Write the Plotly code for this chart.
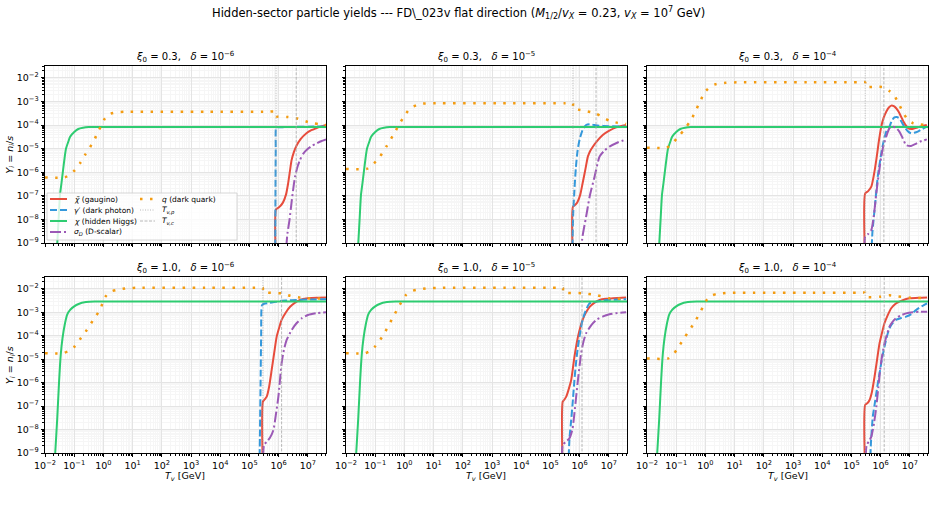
import numpy as np
import plotly.graph_objects as go

# ---------------- panel parameters ----------------
XI0 = ["0.3", "0.3", "0.3", "1.0", "1.0", "1.0"]
DELTA_EXP = ["−6", "−5", "−4", "−6", "−5", "−4"]

# characteristic temperatures, log10(T / GeV)
LOG_TVP = [5.91, 5.77, 5.47, 5.46, 5.43, 5.47]
LOG_TVC = [6.60, 6.56, 6.11, 6.10, 6.08, 6.12]

# ---------------- hidden Higgs (same in each row) ----------------
GREEN_TOP_LOGT = [-1.64, -1.58, -1.53, -1.49, -1.44, -1.39, -1.33, -1.28, -1.20, -1.14, -1.00, -0.86, -0.70, -0.50, -0.30, 0.0, 7.62]
GREEN_TOP_LOGY = [-10.0, -9.0, -7.9, -7.0, -6.5, -6.0, -5.4, -5.0, -4.7, -4.5, -4.3, -4.17, -4.12, -4.09, -4.08, -4.08, -4.08]
GREEN_BOT_LOGT = [-1.70, -1.65, -1.58, -1.52, -1.46, -1.40, -1.32, -1.24, -1.14, -1.00, -0.85, -0.60, -0.30, 0.0, 7.62]
GREEN_BOT_LOGY = [-10.0, -9.0, -7.5, -6.0, -4.8, -4.1, -3.5, -3.1, -2.9, -2.75, -2.65, -2.57, -2.54, -2.54, -2.54]

# ---------------- panel A: xi0=0.3, delta=1e-6 ----------------
A_RED_LOGT = [5.91, 5.91, 6.00, 6.14, 6.25, 6.32, 6.38, 6.44, 6.52, 6.61, 6.75, 6.95, 7.12, 7.30, 7.45, 7.62]
A_RED_LOGY = [-10.0, -7.57, -7.5, -7.3, -6.95, -6.5, -6.0, -5.5, -5.15, -4.88, -4.6, -4.35, -4.22, -4.13, -4.06, -4.0]
A_BLUE_LOGT = [5.88, 5.89, 5.90, 5.91, 5.95, 6.20, 6.60, 7.00, 7.62]
A_BLUE_LOGY = [-10.0, -7.0, -5.0, -4.13, -4.1, -4.09, -4.08, -4.07, -4.06]
A_PURP_LOGT = [6.20, 6.25, 6.30, 6.37, 6.45, 6.56, 6.65, 6.73, 6.85, 7.02, 7.15, 7.30, 7.45, 7.62]
A_PURP_LOGY = [-10.0, -9.3, -8.6, -8.03, -7.18, -6.19, -5.75, -5.48, -5.2, -4.99, -4.87, -4.78, -4.69, -4.61]
A_ORNG_LOGT = [-2.0, -1.32, -1.15, -0.975, -0.80, -0.63, -0.46, -0.29, -0.155, -0.04, 0.05, 0.22, 0.45, 0.73, 1.2, 3.5, 5.6, 5.91, 5.91, 6.30, 6.60, 6.80, 7.00, 7.20, 7.40, 7.62]
A_ORNG_LOGY = [-6.22, -6.22, -6.1, -5.91, -5.62, -5.27, -4.95, -4.57, -4.21, -3.96, -3.72, -3.53, -3.46, -3.44, -3.44, -3.44, -3.44, -3.44, -3.63, -3.66, -3.71, -3.79, -3.87, -3.93, -3.97, -4.0]

# ---------------- panel B: xi0=0.3, delta=1e-5 ----------------
B_RED_LOGT = [5.77, 5.77, 5.85, 5.93, 6.02, 6.10, 6.20, 6.28, 6.36, 6.45, 6.60, 6.79, 7.00, 7.25, 7.59]
B_RED_LOGY = [-10.0, -7.46, -7.38, -7.25, -6.95, -6.47, -5.85, -5.34, -5.1, -4.92, -4.67, -4.42, -4.25, -4.1, -4.0]
B_BLUE_LOGT = [5.74, 5.78, 5.82, 5.87, 5.93, 6.00, 6.10, 6.22, 6.35, 6.60, 7.00, 7.59]
B_BLUE_LOGY = [-10.0, -7.7, -6.75, -5.8, -5.06, -4.6, -4.21, -4.0, -3.97, -4.02, -4.05, -4.07]
B_PURP_LOGT = [6.03, 6.10, 6.22, 6.34, 6.51, 6.68, 6.85, 7.02, 7.30, 7.59]
B_PURP_LOGY = [-9.5, -8.7, -7.89, -7.04, -6.19, -5.34, -5.08, -4.92, -4.74, -4.61]
B_ORNG_LOGT = [-2.0, -1.29, -1.10, -0.84, -0.60, -0.38, -0.20, -0.02, 0.19, 0.53, 1.0, 3.5, 5.5, 5.77, 5.77, 6.10, 6.53, 6.80, 7.02, 7.30, 7.59]
B_ORNG_LOGY = [-5.86, -5.86, -5.7, -5.34, -4.88, -4.42, -4.02, -3.65, -3.3, -3.11, -3.08, -3.08, -3.08, -3.08, -3.29, -3.38, -3.5, -3.68, -3.82, -3.91, -3.96]

# ---------------- panel C: xi0=0.3, delta=1e-4 ----------------
C_RED_LOGT = [5.47, 5.47, 5.57, 5.68, 5.77, 5.85, 5.93, 6.02, 6.10, 6.19, 6.28, 6.36, 6.45, 6.53, 6.62, 6.70, 6.80, 6.93, 7.05, 7.16, 7.35, 7.58]
C_RED_LOGY = [-10.0, -6.9, -6.8, -6.61, -6.1, -5.48, -4.75, -4.07, -3.7, -3.44, -3.26, -3.18, -3.2, -3.29, -3.45, -3.65, -3.9, -4.12, -4.17, -4.14, -4.07, -4.0]
C_BLUE_LOGT = [5.66, 5.72, 5.79, 5.90, 6.02, 6.10, 6.19, 6.30, 6.38, 6.47, 6.55, 6.64, 6.72, 6.81, 6.92, 7.04, 7.15, 7.27, 7.42, 7.58]
C_BLUE_LOGY = [-10.0, -8.5, -7.6, -6.19, -5.2, -4.7, -4.28, -4.07, -3.82, -3.68, -3.66, -3.72, -3.88, -4.07, -4.25, -4.35, -4.33, -4.28, -4.17, -4.07]
C_PURP_LOGT = [5.47, 5.47, 5.57, 5.68, 5.77, 5.85, 5.93, 6.02, 6.10, 6.19, 6.30, 6.42, 6.53, 6.64, 6.75, 6.87, 7.04, 7.20, 7.33, 7.58]
C_PURP_LOGY = [-10.0, -8.73, -8.62, -8.45, -7.8, -6.9, -6.1, -5.34, -4.85, -4.49, -4.14, -4.07, -4.12, -4.28, -4.55, -4.85, -4.89, -4.8, -4.71, -4.61]
C_ORNG_LOGT = [-2.0, -1.33, -1.15, -0.87, -0.70, -0.53, -0.35, -0.19, 0.02, 0.20, 0.38, 0.70, 1.2, 3.5, 5.2, 5.47, 5.47, 5.80, 6.11, 6.30, 6.47, 6.62, 6.76, 6.93, 7.10, 7.35, 7.58]
C_ORNG_LOGY = [-4.96, -4.96, -4.8, -4.42, -4.15, -3.86, -3.45, -3.01, -2.55, -2.35, -2.26, -2.21, -2.19, -2.19, -2.19, -2.19, -2.38, -2.38, -2.4, -2.56, -2.76, -3.1, -3.45, -3.78, -3.92, -3.98, -4.0]

# ---------------- panel D: xi0=1.0, delta=1e-6 ----------------
D_RED_LOGT = [5.46, 5.46, 5.52, 5.59, 5.67, 5.76, 5.85, 5.93, 6.02, 6.10, 6.25, 6.39, 6.55, 6.73, 7.00, 7.30, 7.62]
D_RED_LOGY = [-10.0, -6.81, -6.72, -6.6, -6.2, -5.46, -4.7, -4.05, -3.65, -3.33, -3.0, -2.77, -2.6, -2.48, -2.41, -2.38, -2.37]
D_BLUE_LOGT = [5.34, 5.36, 5.38, 5.40, 5.43, 5.50, 5.70, 5.90, 6.10, 6.30, 6.60, 7.00, 7.62]
D_BLUE_LOGY = [-10.0, -8.0, -6.0, -4.0, -2.7, -2.64, -2.6, -2.56, -2.51, -2.5, -2.48, -2.46, -2.45]
D_PURP_LOGT = [5.46, 5.50, 5.59, 5.70, 5.82, 5.90, 5.99, 6.10, 6.18, 6.27, 6.45, 6.61, 6.80, 7.00, 7.30, 7.62]
D_PURP_LOGY = [-10.0, -8.66, -8.52, -8.35, -8.02, -7.4, -6.6, -5.18, -4.6, -4.19, -3.75, -3.47, -3.25, -3.12, -3.04, -3.0]
D_ORNG_LOGT = [-2.0, -1.38, -1.20, -1.00, -0.80, -0.57, -0.35, -0.12, 0.06, 0.25, 0.45, 0.80, 1.2, 3.5, 5.2, 5.46, 5.46, 6.10, 6.40, 6.75, 7.00, 7.62]
D_ORNG_LOGY = [-4.75, -4.75, -4.65, -4.48, -4.15, -3.76, -3.33, -2.9, -2.35, -2.12, -2.05, -1.98, -1.96, -1.96, -1.96, -1.96, -2.13, -2.2, -2.3, -2.38, -2.41, -2.42]

# ---------------- panel E: xi0=1.0, delta=1e-5 ----------------
E_RED_LOGT = [5.42, 5.42, 5.48, 5.54, 5.62, 5.71, 5.82, 5.94, 6.02, 6.10, 6.20, 6.34, 6.50, 6.68, 6.90, 7.14, 7.59]
E_RED_LOGY = [-10.0, -6.81, -6.72, -6.6, -6.3, -5.89, -4.9, -4.05, -3.65, -3.33, -3.05, -2.77, -2.6, -2.48, -2.43, -2.41, -2.37]
E_BLUE_LOGT = [5.60, 5.65, 5.71, 5.77, 5.82, 5.88, 5.94, 6.02, 6.10, 6.20, 6.34, 6.57, 6.80, 7.10, 7.59]
E_BLUE_LOGY = [-10.0, -8.4, -7.59, -6.7, -5.89, -5.1, -4.47, -3.85, -3.33, -2.95, -2.62, -2.55, -2.5, -2.47, -2.45]
E_PURP_LOGT = [5.42, 5.42, 5.55, 5.65, 5.75, 5.82, 5.88, 5.94, 6.00, 6.05, 6.13, 6.22, 6.40, 6.57, 6.80, 7.02, 7.30, 7.59]
E_PURP_LOGY = [-10.0, -8.66, -8.5, -8.37, -8.0, -7.31, -6.6, -5.89, -5.25, -4.75, -4.25, -3.9, -3.55, -3.33, -3.18, -3.09, -3.03, -3.0]
E_ORNG_LOGT = [-2.0, -1.35, -1.18, -1.01, -0.72, -0.38, -0.16, 0.05, 0.25, 0.41, 0.80, 1.2, 3.5, 5.2, 5.43, 5.43, 6.08, 6.57, 7.02, 7.59]
E_ORNG_LOGY = [-4.75, -4.75, -4.65, -4.47, -3.97, -3.19, -2.69, -2.27, -2.1, -2.05, -1.98, -1.96, -1.96, -1.96, -1.96, -2.15, -2.19, -2.27, -2.41, -2.42]

# ---------------- panel F: xi0=1.0, delta=1e-4 ----------------
F_RED_LOGT = [5.47, 5.47, 5.55, 5.62, 5.70, 5.79, 5.88, 5.96, 6.05, 6.13, 6.25, 6.36, 6.50, 6.64, 6.80, 6.99, 7.30, 7.59]
F_RED_LOGY = [-10.0, -6.95, -6.87, -6.74, -6.4, -5.75, -5.0, -4.33, -3.85, -3.47, -3.1, -2.83, -2.65, -2.55, -2.47, -2.41, -2.38, -2.37]
F_BLUE_LOGT = [5.62, 5.67, 5.73, 5.79, 5.85, 5.92, 5.98, 6.05, 6.13, 6.22, 6.30, 6.40, 6.52, 6.70, 6.87, 7.05, 7.21, 7.40, 7.59]
F_BLUE_LOGY = [-10.0, -8.5, -7.45, -6.95, -6.46, -5.9, -5.46, -4.95, -4.47, -4.0, -3.69, -3.48, -3.33, -3.25, -3.19, -3.08, -2.91, -2.75, -2.62]
F_PURP_LOGT = [5.47, 5.52, 5.60, 5.68, 5.77, 5.85, 5.92, 5.98, 6.05, 6.13, 6.22, 6.30, 6.40, 6.52, 6.70, 6.87, 7.10, 7.35, 7.59]
F_PURP_LOGY = [-10.0, -8.66, -8.5, -8.3, -7.75, -7.03, -6.2, -5.46, -4.85, -4.33, -3.93, -3.62, -3.42, -3.26, -3.13, -3.05, -3.0, -2.98, -2.98]
F_ORNG_LOGT = [-2.0, -1.27, -1.10, -0.93, -0.70, -0.36, -0.08, 0.06, 0.20, 0.38, 0.70, 1.2, 3.5, 5.2, 5.47, 5.47, 6.00, 6.30, 6.60, 7.00, 7.59]
F_ORNG_LOGY = [-4.97, -4.97, -4.8, -4.5, -4.05, -3.41, -2.77, -2.45, -2.3, -2.22, -2.18, -2.17, -2.17, -2.17, -2.17, -2.34, -2.34, -2.28, -2.33, -2.38, -2.4]

# ---------------- tick labels ----------------
X_TICK_EXP = [-2, -1, 0, 1, 2, 3, 4, 5, 6, 7]
X_TICK_LABELS = ["10<sup>−2</sup>", "10<sup>−1</sup>", "10<sup>0</sup>", "10<sup>1</sup>", "10<sup>2</sup>",
                 "10<sup>3</sup>", "10<sup>4</sup>", "10<sup>5</sup>", "10<sup>6</sup>", "10<sup>7</sup>"]
Y_TICK_EXP = [-9, -8, -7, -6, -5, -4, -3, -2]
Y_TICK_LABELS = ["10<sup>−9</sup>", "10<sup>−8</sup>", "10<sup>−7</sup>", "10<sup>−6</sup>",
                 "10<sup>−5</sup>", "10<sup>−4</sup>", "10<sup>−3</sup>", "10<sup>−2</sup>"]

LABELS = ["<i>χ̃</i> (gaugino)", "<i>γ′</i> (dark photon)", "<i>χ</i> (hidden Higgs)",
          "<i>σ<sub>D</sub></i> (D-scalar)", "<i>q</i> (dark quark)",
          "<i>T<sub>v,p</sub></i>", "<i>T<sub>v,c</sub></i>"]

# ---------------- assemble ----------------
PANELS = [
    dict(red=(A_RED_LOGT, A_RED_LOGY), blue=(A_BLUE_LOGT, A_BLUE_LOGY), green=(GREEN_TOP_LOGT, GREEN_TOP_LOGY),
         purp=(A_PURP_LOGT, A_PURP_LOGY), orng=(A_ORNG_LOGT, A_ORNG_LOGY)),
    dict(red=(B_RED_LOGT, B_RED_LOGY), blue=(B_BLUE_LOGT, B_BLUE_LOGY), green=(GREEN_TOP_LOGT, GREEN_TOP_LOGY),
         purp=(B_PURP_LOGT, B_PURP_LOGY), orng=(B_ORNG_LOGT, B_ORNG_LOGY)),
    dict(red=(C_RED_LOGT, C_RED_LOGY), blue=(C_BLUE_LOGT, C_BLUE_LOGY), green=(GREEN_TOP_LOGT, GREEN_TOP_LOGY),
         purp=(C_PURP_LOGT, C_PURP_LOGY), orng=(C_ORNG_LOGT, C_ORNG_LOGY)),
    dict(red=(D_RED_LOGT, D_RED_LOGY), blue=(D_BLUE_LOGT, D_BLUE_LOGY), green=(GREEN_BOT_LOGT, GREEN_BOT_LOGY),
         purp=(D_PURP_LOGT, D_PURP_LOGY), orng=(D_ORNG_LOGT, D_ORNG_LOGY)),
    dict(red=(E_RED_LOGT, E_RED_LOGY), blue=(E_BLUE_LOGT, E_BLUE_LOGY), green=(GREEN_BOT_LOGT, GREEN_BOT_LOGY),
         purp=(E_PURP_LOGT, E_PURP_LOGY), orng=(E_ORNG_LOGT, E_ORNG_LOGY)),
    dict(red=(F_RED_LOGT, F_RED_LOGY), blue=(F_BLUE_LOGT, F_BLUE_LOGY), green=(GREEN_BOT_LOGT, GREEN_BOT_LOGY),
         purp=(F_PURP_LOGT, F_PURP_LOGY), orng=(F_ORNG_LOGT, F_ORNG_LOGY)),
]

RED, BLUE, GREEN, PURPLE, ORANGE = "#e74c3c", "#3498db", "#2ecc71", "#9b59b6", "#f39c12"
VGRAY = "#a6a6a6"
STYLES = {
    "red": dict(color=RED, width=2.0, dash="solid"),
    "blue": dict(color=BLUE, width=2.0, dash="7px,3px"),
    "green": dict(color=GREEN, width=2.0, dash="solid"),
    "purp": dict(color=PURPLE, width=2.0, dash="11px,3px,2px,3px"),
    "orng": dict(color=ORANGE, width=2.5, dash="2.5px,7.5px"),
}
VP_STYLE = dict(color=VGRAY, width=0.8, dash="1px,1.5px")
VC_STYLE = dict(color=VGRAY, width=0.8, dash="3px,1.5px")

W, H = 935, 512
FONT = "DejaVu Sans"
XD = [[45 / W, 326 / W], [346 / W, 627 / W], [647 / W, 928 / W]]
YD = [[1 - 243 / H, 1 - 66 / H], [1 - 453 / H, 1 - 277 / H]]

fig = go.Figure()
layout = {}

for i, p in enumerate(PANELS):
    r, c = divmod(i, 3)
    sfx = "" if i == 0 else str(i + 1)
    for key in ["red", "blue", "green", "purp", "orng"]:
        lt, ly = p[key]
        fig.add_trace(go.Scatter(
            x=np.power(10.0, lt), y=np.power(10.0, ly), mode="lines",
            line=dict(shape="spline", smoothing=0.6, **STYLES[key]),
            xaxis="x" + sfx, yaxis="y" + sfx, showlegend=False, hoverinfo="skip"))
    for lg, st in [(LOG_TVP[i], VP_STYLE), (LOG_TVC[i], VC_STYLE)]:
        fig.add_trace(go.Scatter(
            x=[10 ** lg, 10 ** lg], y=[1e-12, 1.0], mode="lines", line=st,
            xaxis="x" + sfx, yaxis="y" + sfx, showlegend=False, hoverinfo="skip"))

    common = dict(
        type="log", automargin=False, showline=True, linecolor="black", linewidth=0.9, mirror=True,
        ticks="outside", ticklen=3.5, tickwidth=0.8, tickcolor="black",
        showgrid=True, gridcolor="#e4e4e4", gridwidth=0.8,
        tickfont=dict(family=FONT, size=9.5, color="black"),
        minor=dict(dtick="D1", ticks="outside", ticklen=2, tickwidth=0.6, tickcolor="black",
                   showgrid=True, gridcolor="#f6f6f6", gridwidth=0.6),
        tickmode="array",
    )
    layout["xaxis" + sfx] = dict(
        common, domain=XD[c], range=[-2, 7.62], anchor="y" + sfx,
        tickvals=[10.0 ** e for e in X_TICK_EXP], ticktext=X_TICK_LABELS,
        showticklabels=(r == 1))
    layout["yaxis" + sfx] = dict(
        common, domain=YD[r], range=[-9, -1.5], anchor="x" + sfx,
        tickvals=[10.0 ** e for e in Y_TICK_EXP], ticktext=Y_TICK_LABELS,
        showticklabels=(c == 0))

annotations = []
shapes = []
for i in range(6):
    r, c = divmod(i, 3)
    xc = (XD[c][0] + XD[c][1]) / 2
    yt = 1 - (57 if r == 0 else 268) / H
    annotations.append(dict(
        text=f"<i>ξ</i><sub>0</sub> = {XI0[i]},\u00a0\u00a0\u00a0<i>δ</i> = 10<sup>{DELTA_EXP[i]}</sup>",
        x=xc, y=yt, xref="paper", yref="paper", showarrow=False,
        xanchor="center", yanchor="middle", font=dict(family=FONT, size=10, color="black")))
    if r == 1:
        annotations.append(dict(
            text="<i>T<sub>v</sub></i> [GeV]", x=xc, y=1 - 476 / H, xref="paper", yref="paper",
            showarrow=False, xanchor="center", yanchor="middle", font=dict(family=FONT, size=9.5, color="black")))
    if c == 0:
        yc = (YD[r][0] + YD[r][1]) / 2
        annotations.append(dict(
            text="<i>Y<sub>i</sub></i> = <i>n<sub>i</sub></i>/<i>s</i>", x=10 / W, y=yc,
            xref="paper", yref="paper", showarrow=False, textangle=-90,
            xanchor="center", yanchor="middle", font=dict(family=FONT, size=9.5, color="black")))

# suptitle
annotations.append(dict(
    text="Hidden-sector particle yields --- FD\\_023v flat direction "
         "(<i>M</i><sub>1/2</sub>/<i>v<sub>X</sub></i> = 0.23, <i>v<sub>X</sub></i> = 10<sup>7</sup> GeV)",
    x=458 / W, y=1 - 13 / H, xref="paper", yref="paper", showarrow=False,
    xanchor="center", yanchor="middle", font=dict(family=FONT, size=11.5, color="black")))

# legend (drawn in top-left panel)
shapes.append(dict(type="rect", xref="paper", yref="paper",
                   x0=47 / W, x1=237 / W, y0=1 - 240 / H, y1=1 - 193 / H,
                   fillcolor="rgba(255,255,255,0.8)", line=dict(color="#cccccc", width=0.8), layer="above"))
LEG_ITEMS = [
    (STYLES["red"], LABELS[0], 0, 199), (STYLES["blue"], LABELS[1], 0, 210),
    (STYLES["green"], LABELS[2], 0, 221), (STYLES["purp"], LABELS[3], 0, 232),
    (STYLES["orng"], LABELS[4], 1, 199), (VP_STYLE, LABELS[5], 1, 210), (VC_STYLE, LABELS[6], 1, 221),
]
for st, lab, col, ypx in LEG_ITEMS:
    x0, x1, xt = (50, 67, 72) if col == 0 else (140, 155, 160)
    shapes.append(dict(type="line", xref="paper", yref="paper", x0=x0 / W, x1=x1 / W,
                       y0=1 - ypx / H, y1=1 - ypx / H, line=dict(st), layer="above"))
    annotations.append(dict(text=lab, x=xt / W, y=1 - ypx / H, xref="paper", yref="paper",
                            showarrow=False, xanchor="left", yanchor="middle",
                            font=dict(family=FONT, size=7.5, color="black")))

fig.update_layout(
    width=W, height=H, margin=dict(l=0, r=0, t=0, b=0, autoexpand=False),
    paper_bgcolor="white", plot_bgcolor="white",
    font=dict(family=FONT, color="black"),
    annotations=annotations, shapes=shapes, **layout)

fig.write_html("out.html")
